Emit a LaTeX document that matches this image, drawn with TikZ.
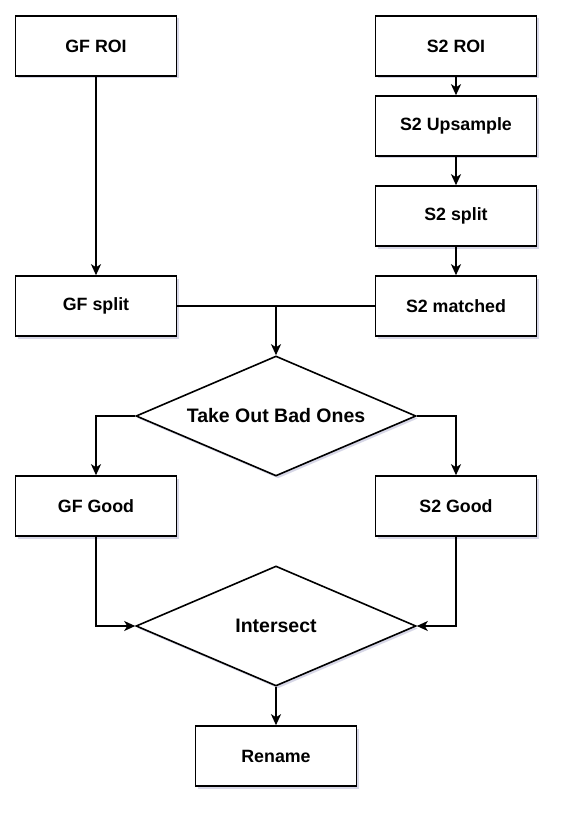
\documentclass[tikz,border=0pt]{standalone}
\usepackage{fontspec}
\setmainfont{Liberation Sans}
\usetikzlibrary{arrows.meta}
\usetikzlibrary{shapes.geometric}
\usetikzlibrary{shadows}
\usetikzlibrary{positioning}
\tikzset{>={Stealth[length=11pt, width=10pt, inset=3pt]}}
\tikzset{shade/.style = {drop shadow={shadow xshift=2pt, shadow yshift=-2.5pt,
                                      opacity=0.25, fill=blue!25!gray}}}
\tikzset{stepbox/.style = {draw, fill=white, shade, rectangle, line width=1.6pt,
                           minimum width=161pt, minimum height=60pt,
                           font=\bfseries\fontsize{17.8}{20}\selectfont}}
\tikzset{choice/.style = {draw, fill=white, shade, diamond, line width=1.6pt,
                          shape aspect=2.333, inner sep=0pt,
                          minimum width=280pt, minimum height=120pt,
                          font=\bfseries\fontsize{19.5}{22}\selectfont}}

\begin{document}
\begin{tikzpicture}[x=1pt, y=1pt, line width=1.6pt]
      \useasboundingbox (0, 0) rectangle (563, -813);

      \node (gfroi) at (96, -46) [stepbox] {GF ROI};
      \node (s2roi) at (456, -46) [stepbox] {S2 ROI};
      \node (s2up) at (456, -126) [stepbox] {S2 Upsample};
      \node (s2split) at (456, -216) [stepbox] {S2 split};
      \node (gfsplit) at (96, -306) [stepbox] {GF split};
      \node (s2match) at (456, -306) [stepbox] {S2 matched};

      \node (takeout) at (276, -416) [choice] {Take Out Bad Ones};
      \node (gfgood) at (96, -506) [stepbox] {GF Good};
      \node (s2good) at (456, -506) [stepbox] {S2 Good};

      \node (inter) at (276, -626) [choice] {Intersect};
      \node (rename) at (276, -756) [stepbox] {Rename};

      \coordinate (join) at (276, -306);

      \draw [->] (gfroi) -- (gfsplit);
      \draw [->] (s2roi) -- (s2up);
      \draw [->] (s2up) -- (s2split);
      \draw [->] (s2split) -- (s2match);

      \draw (gfsplit) -- (join) -- (s2match);
      \draw [->] (join) -- (takeout);

      \draw [->] (takeout.west) -| (gfgood);
      \draw [->] (takeout.east) -| (s2good);

      \draw [->] (gfgood) |- (inter.west);
      \draw [->] (s2good) |- (inter.east);
      \draw [->] (inter) -- (rename);
    \end{tikzpicture}
\end{document}
